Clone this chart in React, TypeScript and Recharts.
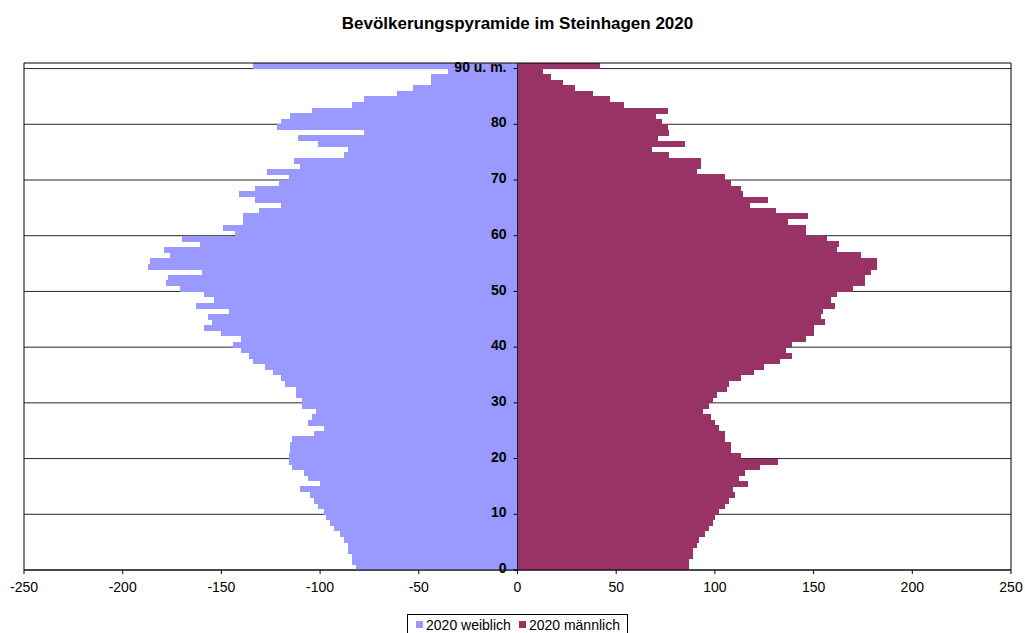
import React from "react";
import {
  BarChart,
  Bar,
  XAxis,
  YAxis,
  ReferenceLine,
  ReferenceDot,
  Legend,
} from "recharts";

// Alter 0 .. 90 u. m. (von unten nach oben)
const ages = [
  "0", "1", "2", "3", "4", "5", "6", "7", "8", "9",
  "10", "11", "12", "13", "14", "15", "16", "17", "18", "19",
  "20", "21", "22", "23", "24", "25", "26", "27", "28", "29",
  "30", "31", "32", "33", "34", "35", "36", "37", "38", "39",
  "40", "41", "42", "43", "44", "45", "46", "47", "48", "49",
  "50", "51", "52", "53", "54", "55", "56", "57", "58", "59",
  "60", "61", "62", "63", "64", "65", "66", "67", "68", "69",
  "70", "71", "72", "73", "74", "75", "76", "77", "78", "79",
  "80", "81", "82", "83", "84", "85", "86", "87", "88", "89",
  "90 u. m.",
];

// 2020 weiblich (negativ nach links)
const female = [
  -82, -84, -84, -86, -86, -88, -90, -93, -95, -97,
  -98, -101, -103, -105, -110, -100, -106, -108, -114, -116,
  -116, -115, -115, -114, -103, -98, -106, -104, -102, -109,
  -109, -112, -112, -118, -120, -124, -128, -134, -136, -140,
  -144, -140, -150, -159, -155, -157, -146, -163, -154, -159,
  -171, -178, -177, -160, -187, -186, -176, -179, -161, -170,
  -143, -149, -139, -139, -131, -120, -133, -141, -133, -121,
  -116, -127, -110, -113, -88, -86, -101, -111, -78, -122,
  -120, -115, -104, -84, -78, -61, -53, -44, -44, -35,
  -134,
];

// 2020 männlich
const male = [
  87, 87, 89, 89, 91, 92, 95, 97, 99, 100,
  102, 105, 107, 110, 109, 117, 112, 115, 123, 132,
  113, 108, 108, 105, 105, 102, 100, 98, 94, 97,
  99, 101, 106, 107, 113, 120, 125, 133, 139, 136,
  139, 146, 150, 150, 156, 154, 155, 161, 159, 162,
  170, 176, 176, 179, 182, 182, 174, 162, 163, 157,
  146, 146, 137, 147, 131, 118, 127, 114, 113, 108,
  105, 91, 93, 93, 77, 68, 85, 71, 77, 76,
  73, 70, 76, 54, 47, 38, 29, 23, 17, 13,
  42,
];

const xTicks = [-250, -200, -150, -100, -50, 0, 50, 100, 150, 200, 250];
const ageLabels = ["0", "10", "20", "30", "40", "50", "60", "70", "80", "90 u. m."];

const FEMALE_COLOR = "#9999FF";
const MALE_COLOR = "#993366";
const FONT = "'Liberation Sans', Arial, sans-serif";

const data = ages.map((age, i) => ({
  age,
  weiblich: female[i],
  maennlich: male[i],
}));

// small tick mark left of the centre axis (0 is the middle of the symmetric x domain)
function AxisTick(props: any) {
  const vb = props.viewBox || {};
  const cx = vb.x + vb.width / 2;
  return <line x1={cx - 4} x2={cx} y1={vb.y} y2={vb.y} stroke="#000" />;
}

function LegendBox() {
  const square = (color: string) => (
    <span
      style={{
        display: "inline-block",
        width: 7,
        height: 7,
        background: color,
        marginRight: 3,
      }}
    />
  );
  return (
    <div style={{ textAlign: "center", width: "100%" }}>
      <div
        style={{
          display: "inline-flex",
          alignItems: "center",
          height: 21,
          boxSizing: "border-box",
          border: "1px solid #000",
          padding: "0 7px 0 8px",
          fontSize: 14,
          fontFamily: FONT,
          color: "#000",
          background: "#fff",
        }}
      >
        {square(FEMALE_COLOR)}
        <span style={{ marginRight: 8 }}>2020 weiblich</span>
        {square(MALE_COLOR)}
        <span>2020 männlich</span>
      </div>
    </div>
  );
}

export default function App() {
  return (
    <div
      style={{
        position: "absolute",
        left: 0,
        top: 0,
        width: 1025,
        height: 633,
        background: "#fff",
        fontFamily: FONT,
        overflow: "hidden",
      }}
    >
      <div
        style={{
          position: "absolute",
          top: 14,
          left: 0,
          width: 1035,
          textAlign: "center",
          fontWeight: "bold",
          fontSize: 17,
          color: "#000",
        }}
      >
        Bevölkerungspyramide im Steinhagen 2020
      </div>
      <BarChart
        width={1025}
        height={633}
        data={data}
        layout="vertical"
        stackOffset="sign"
        barCategoryGap={0}
        barGap={0}
        margin={{ top: 63, right: 14, bottom: 0, left: 24 }}
      >
        <XAxis
          type="number"
          domain={[-250, 250]}
          ticks={xTicks}
          interval={0}
          height={42}
          tickSize={4}
          tickMargin={8}
          stroke="#000"
          tick={{ fill: "#000", fontSize: 14, fontFamily: FONT }}
        />
        <YAxis yAxisId="cat" type="category" dataKey="age" reversed hide />
        {/* grid lines on the lower edge of every 10th age band, kept behind the bars */}
        {ageLabels.map((a) => (
          <ReferenceLine
            key={"g" + a}
            yAxisId="cat"
            y={a}
            position="end"
            stroke="#000"
            strokeOpacity={0.85}
            zIndex={-100}
          />
        ))}
        <ReferenceLine yAxisId="cat" y="90 u. m." position="start" stroke="#000" />
        <Bar
          yAxisId="cat"
          dataKey="weiblich"
          name="2020 weiblich"
          stackId="p"
          fill={FEMALE_COLOR}
          shapeRendering="crispEdges"
          isAnimationActive={false}
        />
        <Bar
          yAxisId="cat"
          dataKey="maennlich"
          name="2020 männlich"
          stackId="p"
          fill={MALE_COLOR}
          shapeRendering="crispEdges"
          isAnimationActive={false}
        />
        <ReferenceLine yAxisId="cat" x={-250} stroke="#000" />
        <ReferenceLine yAxisId="cat" x={250} stroke="#000" />
        <ReferenceLine yAxisId="cat" x={0} stroke="#222" />
        {ageLabels.map((a) => (
          <ReferenceLine
            key={"tick" + a}
            yAxisId="cat"
            y={a}
            position="end"
            stroke="none"
            label={<AxisTick />}
          />
        ))}
        {ageLabels.map((a) => (
          <ReferenceDot
            key={a}
            yAxisId="cat"
            x={0}
            y={a}
            r={0}
            fill="none"
            stroke="none"
            label={{
              value: a,
              position: "left",
              offset: 11,
              dy: 1,
              fill: "#000",
              fontSize: 14,
              fontWeight: "bold",
              fontFamily: FONT,
            }}
          />
        ))}
        <Legend
          verticalAlign="bottom"
          wrapperStyle={{ bottom: -2 }}
          content={() => <LegendBox />}
        />
      </BarChart>
    </div>
  );
}
